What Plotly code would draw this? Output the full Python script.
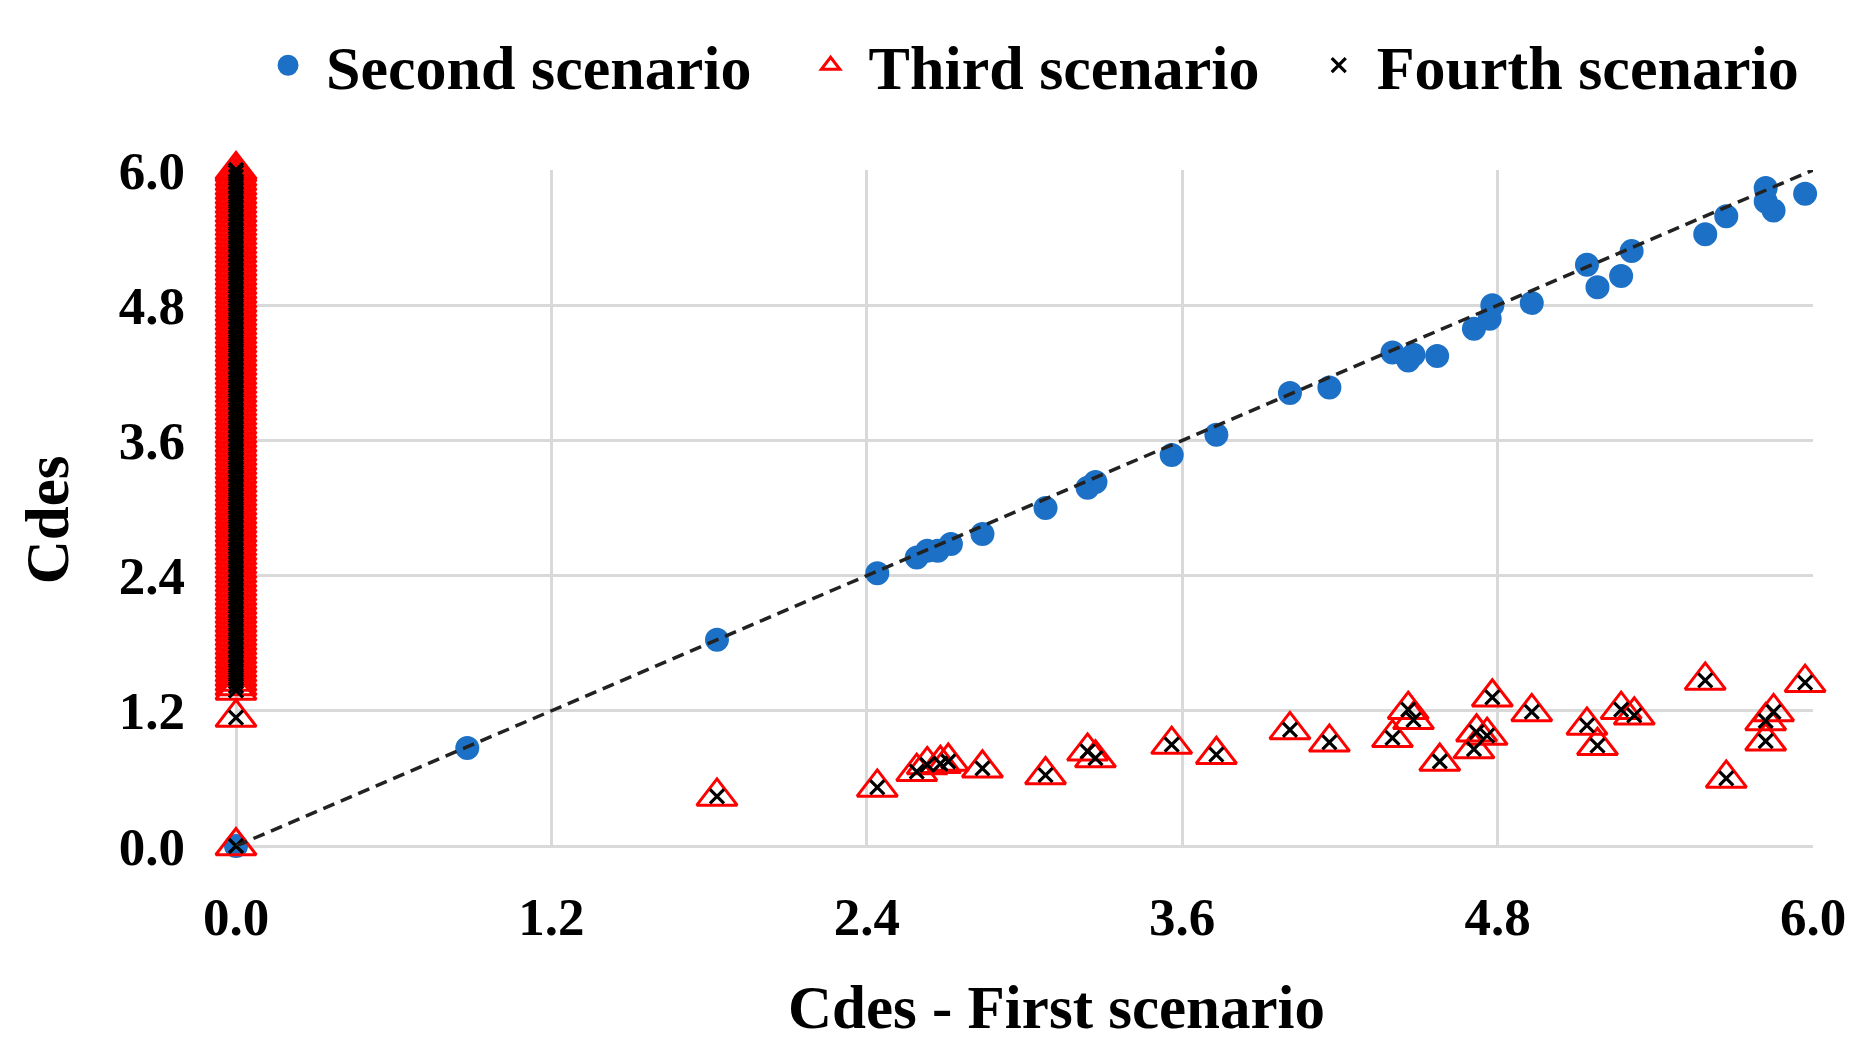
import plotly.graph_objects as go

# ---------------- data ----------------
# Second scenario (blue dots): x = Cdes first scenario, y = Cdes second scenario
second_x = [0.00, 0.88, 1.83, 2.44, 2.59, 2.63, 2.67, 2.72, 2.84, 3.08, 3.24, 3.27,
            3.56, 3.73, 4.01, 4.16, 4.40, 4.46, 4.48, 4.57, 4.71, 4.77, 4.78, 4.93,
            5.14, 5.18, 5.27, 5.31, 5.59, 5.67, 5.82, 5.82, 5.85, 5.97]
second_y = [0.00, 0.87, 1.83, 2.42, 2.56, 2.62, 2.62, 2.68, 2.77, 3.00, 3.18, 3.23,
            3.47, 3.65, 4.02, 4.07, 4.38, 4.31, 4.36, 4.35, 4.59, 4.68, 4.80, 4.82,
            5.16, 4.96, 5.06, 5.28, 5.43, 5.59, 5.84, 5.72, 5.64, 5.79]

# Third scenario (red triangles), points with non-zero first-scenario value
third_x = [1.83, 2.44, 2.59, 2.63, 2.68, 2.71, 2.84, 3.08, 3.24, 3.27, 3.56, 3.73,
           4.01, 4.16, 4.40, 4.46, 4.48, 4.58, 4.71, 4.72, 4.76, 4.78, 4.93, 5.14,
           5.18, 5.27, 5.32, 5.59, 5.67, 5.82, 5.82, 5.85, 5.97]
third_y = [0.44, 0.52, 0.66, 0.72, 0.73, 0.75, 0.69, 0.63, 0.84, 0.78, 0.90, 0.81,
           1.03, 0.92, 0.96, 1.21, 1.12, 0.75, 0.86, 1.01, 0.98, 1.32, 1.19, 1.07,
           0.89, 1.21, 1.16, 1.47, 0.60, 0.93, 1.11, 1.19, 1.45]

# Third scenario points whose first-scenario value is 0 (dense column at x = 0)
third_zero_y = [0.00, 1.14,
                1.38, 1.42, 1.46, 1.50, 1.54, 1.58, 1.62, 1.66, 1.70, 1.74, 1.78, 1.82,
                1.86, 1.90, 1.94, 1.98, 2.02, 2.06, 2.10, 2.14, 2.18, 2.22, 2.26, 2.30,
                2.34, 2.38, 2.42, 2.46, 2.50, 2.54, 2.58, 2.62, 2.66, 2.70, 2.74, 2.78,
                2.82, 2.86, 2.90, 2.94, 2.98, 3.02, 3.06, 3.10, 3.14, 3.18, 3.22, 3.26,
                3.30, 3.34, 3.38, 3.42, 3.46, 3.50, 3.54, 3.58, 3.62, 3.66, 3.70, 3.74,
                3.78, 3.82, 3.86, 3.90, 3.94, 3.98, 4.02, 4.06, 4.10, 4.14, 4.18, 4.22,
                4.26, 4.30, 4.34, 4.38, 4.42, 4.46, 4.50, 4.54, 4.58, 4.62, 4.66, 4.70,
                4.74, 4.78, 4.82, 4.86, 4.90, 4.94, 4.98, 5.02, 5.06, 5.10, 5.14, 5.18,
                5.22, 5.26, 5.30, 5.34, 5.38, 5.42, 5.46, 5.50, 5.54, 5.58, 5.62, 5.66,
                5.70, 5.74, 5.78, 5.82, 5.86, 5.90, 5.94, 5.98, 6.00]

# Fourth scenario (black x) coincides with the third scenario
fourth_x = list(third_x)
fourth_y = list(third_y)
fourth_zero_y = list(third_zero_y)

# 1:1 reference line
line_x = [0.0, 6.0]
line_y = [0.0, 6.0]

tick_vals = [0.0, 1.2, 2.4, 3.6, 4.8, 6.0]
tick_text = ["0.0", "1.2", "2.4", "3.6", "4.8", "6.0"]

series_names = ["Second scenario", "Third scenario", "Fourth scenario"]

# ---------------- figure ----------------
FONT = "Liberation Serif"
GRID = "#D9D9D9"
BLUE = "#1C70C6"
PAD = "\u00a0\u00a0\u200a"  # extra spacing after legend entries

third_all_x = [0.0] * len(third_zero_y) + third_x
third_all_y = third_zero_y + third_y
fourth_all_x = [0.0] * len(fourth_zero_y) + fourth_x
fourth_all_y = fourth_zero_y + fourth_y

fig = go.Figure()
fig.add_trace(go.Scatter(
    x=second_x, y=second_y, mode="markers", name=series_names[0] + PAD,
    marker=dict(symbol="circle", size=19, color=BLUE, line=dict(width=5, color=BLUE)),
    cliponaxis=False))
fig.add_trace(go.Scatter(
    x=third_all_x, y=third_all_y, mode="markers", name=series_names[1] + PAD,
    marker=dict(symbol="triangle-up-open", size=35, color="#FF0000",
                line=dict(width=3, color="#FF0000")),
    cliponaxis=False))
fig.add_trace(go.Scatter(
    x=fourth_all_x, y=fourth_all_y, mode="markers", name=series_names[2],
    marker=dict(symbol="x-thin", size=14, color="#000000",
                line=dict(width=3.2, color="#000000")),
    cliponaxis=False))
fig.add_trace(go.Scatter(
    x=line_x, y=line_y, mode="lines", showlegend=False, hoverinfo="skip",
    line=dict(color="#222222", width=3.5, dash="12px,7px")))

axis_common = dict(
    range=[0, 6], tickmode="array", tickvals=tick_vals, ticktext=tick_text,
    showgrid=True, gridcolor=GRID, gridwidth=2.5,
    zeroline=True, zerolinecolor=GRID, zerolinewidth=2.5,
    showline=False, ticks="",
    tickfont=dict(family=FONT, size=53, color="#000000", weight="bold"),
    fixedrange=True,
)

# page body has an 8px default margin -> shrink figure so the plot lands right
fig.update_layout(
    width=1854, height=1054,
    margin=dict(l=228, r=49, t=161, b=216, pad=0),
    paper_bgcolor="white", plot_bgcolor="white",
    xaxis=dict(**axis_common, ticklabelstandoff=35),
    yaxis=dict(**axis_common, ticklabelstandoff=50),
    showlegend=True,
    legend=dict(
        orientation="h", x=0.0089, y=1.153, xanchor="left", yanchor="middle",
        font=dict(family=FONT, size=62, color="#000000", weight="bold"),
        itemwidth=66, bgcolor="rgba(0,0,0,0)",
    ),
    annotations=[
        dict(text="Cdes - First scenario", xref="paper", yref="paper",
             x=0.5206, y=-0.239, xanchor="center", yanchor="middle",
             showarrow=False,
             font=dict(family=FONT, size=61, color="#000000", weight="bold")),
        dict(text="Cdes", xref="paper", yref="paper", textangle=-90,
             x=-0.1198, y=0.482, xanchor="center", yanchor="middle",
             showarrow=False,
             font=dict(family=FONT, size=61, color="#000000", weight="bold")),
    ],
)

fig.write_html("out.html")
